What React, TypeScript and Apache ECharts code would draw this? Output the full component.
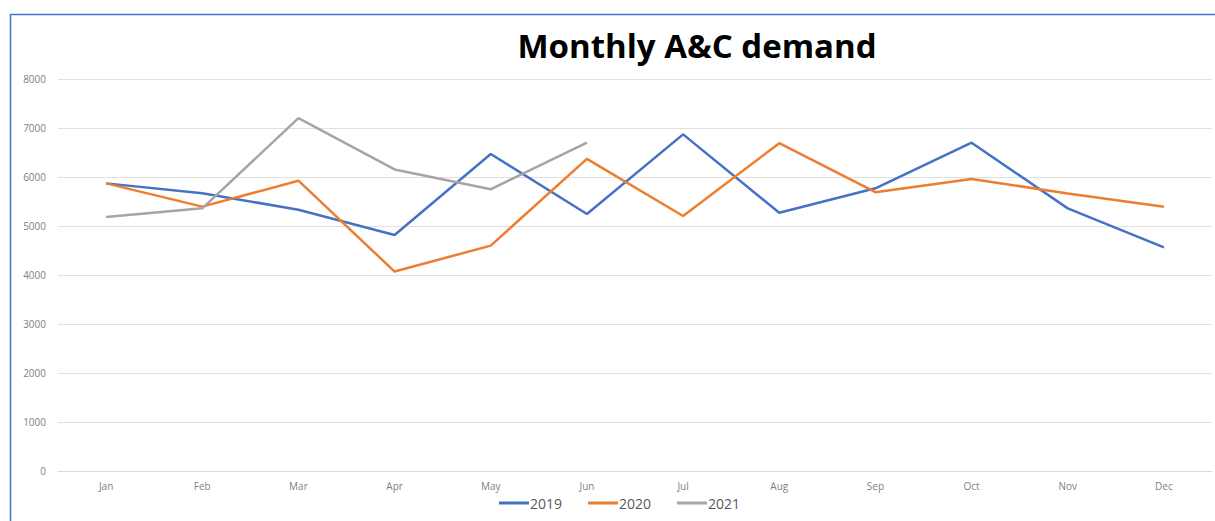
import React, { useEffect, useRef } from "react";
import * as echarts from "echarts";

const months = ["Jan", "Feb", "Mar", "Apr", "May", "Jun", "Jul", "Aug", "Sep", "Oct", "Nov", "Dec"];
const seriesNames = ["2019", "2020", "2021"];
const values2019 = [5870, 5670, 5330, 4815, 6470, 5245, 6870, 5270, 5770, 6700, 5360, 4565];
const values2020 = [5870, 5395, 5925, 4070, 4600, 6370, 5205, 6690, 5690, 5960, 5665, 5395];
const values2021 = [5185, 5360, 7200, 6155, 5750, 6700];
const colors = ["#4472C4", "#ED7D31", "#A5A5A5"];

export default function App() {
  const ref = useRef<HTMLDivElement>(null);
  useEffect(() => {
    if (!ref.current) return;
    const chart = echarts.init(ref.current, undefined, { renderer: "svg" });
    const data = [values2019, values2020, values2021];
    chart.setOption({
      animation: false,
      backgroundColor: "#ffffff",
      color: colors,
      graphic: [
        {
          type: "rect",
          shape: { x: 10.5, y: 14.5, width: 1400, height: 700 },
          style: { fill: "none", stroke: "#4472C4", lineWidth: 1.5 },
          silent: true,
        },
        {
          type: "text",
          x: 697,
          y: 45,
          style: {
            text: "Monthly A&C demand",
            fontFamily: "Open Sans",
            fontWeight: "bold",
            fontSize: 33,
            fill: "#000000",
            textAlign: "center",
            textVerticalAlign: "middle",
          },
        },
      ],
      grid: { left: 58, right: 3, top: 79, bottom: 50, containLabel: false },
      legend: {
        data: seriesNames,
        left: 494,
        top: 491,
        icon: "rect",
        itemWidth: 30,
        itemHeight: 3,
        itemGap: 26,
        textStyle: { color: "#595959", fontSize: 14, fontFamily: "Open Sans", padding: [0, 0, 0, -4] },
      },
      xAxis: {
        type: "category",
        data: months,
        boundaryGap: true,
        axisLine: { show: true, lineStyle: { color: "#d9d9d9", width: 1 } },
        axisTick: { show: false },
        axisLabel: { color: "#7f7f7f", fontSize: 10, fontFamily: "Open Sans", margin: 10 },
      },
      yAxis: {
        type: "value",
        min: 0,
        max: 8000,
        interval: 1000,
        axisLine: { show: false },
        axisTick: { show: false },
        splitLine: { lineStyle: { color: "#e0e0e0", width: 1 } },
        axisLabel: {
          color: "#7f7f7f",
          fontSize: 10,
          fontFamily: "Open Sans",
          margin: 12,
          formatter: (v: number) => String(v),
        },
      },
      series: seriesNames.map((name, i) => ({
        name,
        type: "line",
        data: data[i],
        symbol: "none",
        lineStyle: { width: 2.5, color: colors[i] },
        itemStyle: { color: colors[i] },
      })),
    });
    return () => chart.dispose();
  }, []);
  return (
    <div
      ref={ref}
      style={{ position: "absolute", left: 0, top: 0, width: 1215, height: 521 }}
    />
  );
}
